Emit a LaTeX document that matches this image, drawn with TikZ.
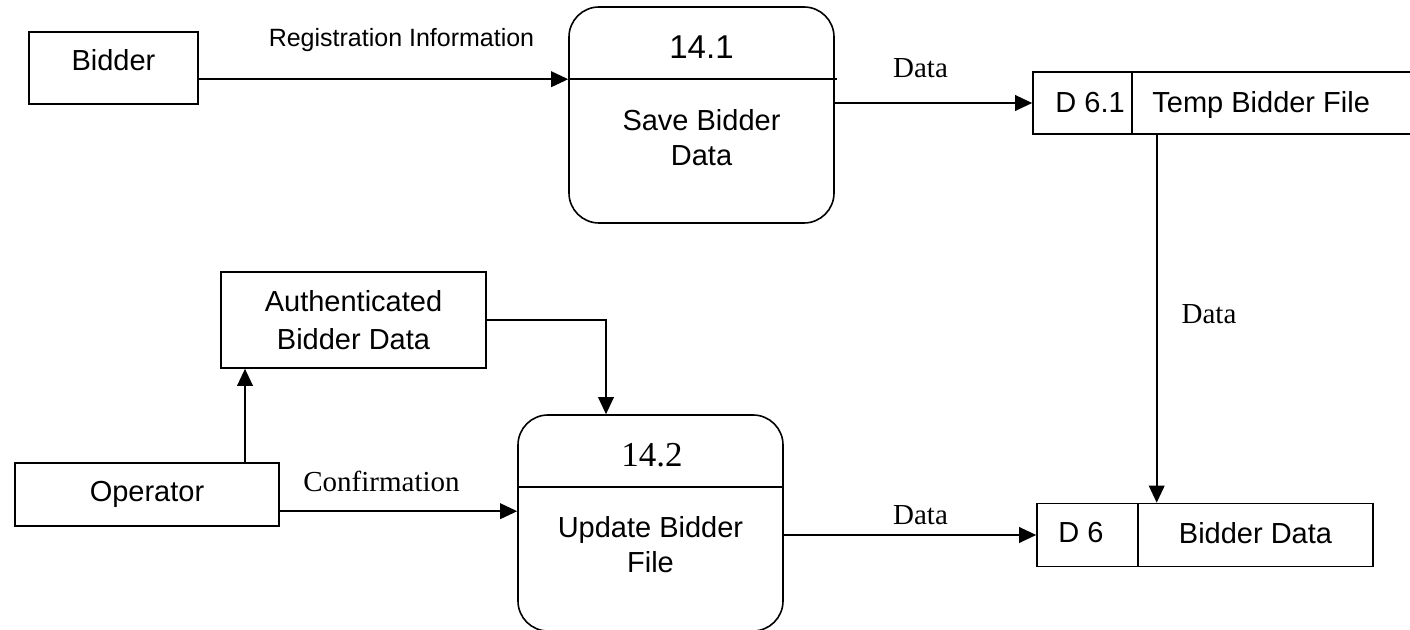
\documentclass[tikz,border=0pt]{standalone}
\usepackage{fontspec}
\setmainfont{Liberation Serif}
\newfontfamily\sansface{Liberation Sans}
\newfontfamily\serifface{Liberation Serif}
\usetikzlibrary{arrows.meta}

\begin{document}
\begin{tikzpicture}[x=0.5pt,y=-0.5pt,
  every node/.style={inner sep=0pt},
  entity/.style={draw, line width=0.8pt, align=center,
    font=\sansface\fontsize{14.5}{19.25}\selectfont},
  process/.style={draw, line width=0.8pt, rounded corners=15pt,
    minimum width=132.5pt, minimum height=108pt},
  store/.style={draw, line width=0.8pt},
  divider/.style={line width=0.8pt},
  sanstext/.style={align=center, font=\sansface\fontsize{14.5}{17.5}\selectfont},
  serlbl/.style={font=\serifface\fontsize{14.5}{17}\selectfont},
  flow/.style={line width=0.8pt, -{Triangle[length=8.5pt,width=7.8pt]}}
]
\path[use as bounding box] (0,0) rectangle (1410,630);

% external entities
\node[entity, minimum width=84.5pt, minimum height=36pt, text depth=8.3pt] (bidder) at (113.5,68) {Bidder};
\node[entity, minimum width=132.5pt, minimum height=48pt] (auth) at (353.5,320) {Authenticated\\Bidder Data};
\node[entity, minimum width=132pt, minimum height=31.5pt] (op) at (147,494.5) {Operator};

% processes
\node[process] (p141) at (701.5,115) {};
\node[process] (p142) at (650.5,523) {};
\coordinate (p141-div) at ([yshift=-36.5pt]p141.north west);
\coordinate (p142-div) at ([yshift=-36.5pt]p142.north west);
\draw[divider] (p141-div) -- ([xshift=1pt]p141-div -| p141.east);
\draw[divider] (p142-div) -- (p142-div -| p142.east);
\node[font=\sansface\fontsize{16.5}{20}\selectfont] (p141-id) at (701.5,47.5) {14.1};
\node[sanstext] (p141-name) at (701.5,137.5) {Save Bidder\\Data};
\node[font=\serifface\fontsize{17.5}{20}\selectfont] (p142-id) at (652,455.5) {14.2};
\node[sanstext] (p142-name) at (650.5,544.25) {Update Bidder\\File};

% data stores
\node[store, minimum width=190.5pt, minimum height=31pt] (ds61) at (1223.5,103) {};
\draw[divider] ([xshift=50pt]ds61.north west) -- ([xshift=50pt]ds61.south west);
\node[sanstext, anchor=west, text depth=0pt] (ds61-id) at (1055,102) {D 6.1};
\node[sanstext, anchor=west, text depth=0pt] (ds61-name) at (1152,102) {Temp Bidder File};

\node[store, minimum width=168pt, minimum height=31.5pt] (ds6) at (1205,535) {};
\draw[divider] ([xshift=51pt]ds6.north west) -- ([xshift=51pt]ds6.south west);
\node[sanstext, anchor=west] (ds6-id) at (1058,533) {D 6};
\node[sanstext] (ds6-name) at (1255.5,533) {Bidder Data};

% flow labels
\node[font=\sansface\fontsize{12.5}{15}\selectfont, text depth=0pt] (l-reg) at (401.5,37) {Registration Information};
\node[serlbl] (l-data1) at (920.5,68.5) {Data};
\node[serlbl] (l-data2) at (1209,314) {Data};
\node[serlbl] (l-data3) at (920.5,515) {Data};
\node[serlbl] (l-conf) at (381.5,481.5) {Confirmation};

% data flows
\draw[flow] (bidder.east |- p141-div) -- (p141-div);
\draw[flow] (p141.east |- ds61.west) -- (ds61.west);
\coordinate (drop) at ([xshift=60.25pt]ds6.north west);
\draw[flow] (ds61.south -| drop) -- (drop);
\coordinate (up) at ([xshift=49pt]op.north);
\draw[flow] (up) -- (up |- auth.south);
\draw[flow] (auth.east) -| ([xshift=-22.25pt]p142.north);
\coordinate (conf) at ([yshift=-12pt]p142-div);
\draw[flow] (op.east |- conf) -- (conf);
\draw[flow] (p142.east |- ds6.west) -- (ds6.west);
\end{tikzpicture}
\end{document}
